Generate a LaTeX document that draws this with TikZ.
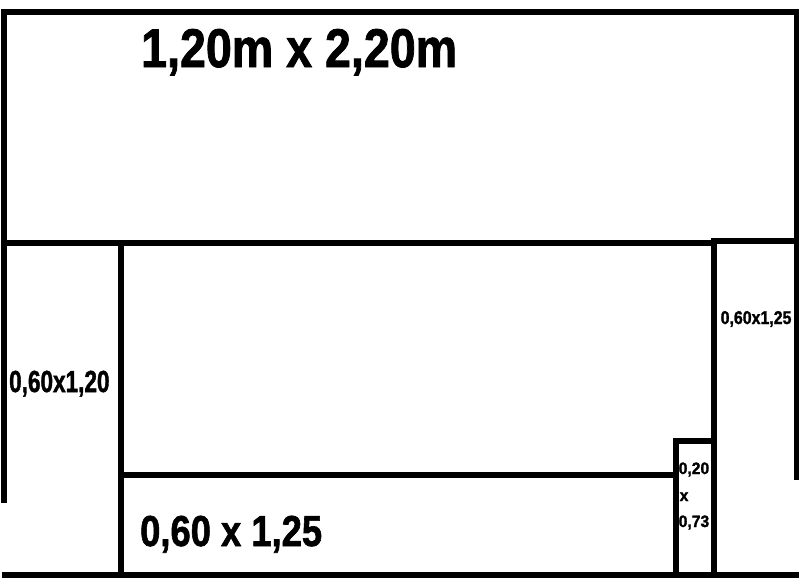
\documentclass[tikz,border=0pt]{standalone}
\usepackage{fontspec}
\setmainfont{Liberation Sans}
\newfontfamily\heavyfont{Liberation Sans Bold}[FakeBold=1.6]
\newcommand{\lblfont}[1]{\heavyfont\fontsize{#1}{#1}\selectfont}
\tikzset{
  wall/.style={line width=5.5pt, line cap=rect, black},
  lbl/.style={inner sep=0pt, anchor=base west}
}
\begin{document}
\begin{tikzpicture}[x=1pt,y=-1pt]
\useasboundingbox (0,0) rectangle (799,579);
% coordinates
\coordinate (tl) at (4,12);
\coordinate (tr) at (797,12);
\coordinate (ml) at (4,243);
\coordinate (mA) at (121,243);
\coordinate (mB) at (714,243);
\coordinate (mr) at (797,241);
\coordinate (le) at (4,500);
\coordinate (bl) at (5,575);
\coordinate (br) at (799,575);
\coordinate (aB) at (121,575);
\coordinate (hA) at (121,475);
\coordinate (hB) at (676,475);
\coordinate (sT) at (676,441);
\coordinate (sR) at (714,441);
\coordinate (sB) at (676,575);
\coordinate (rB) at (714,575);
\coordinate (rr) at (797,477);
% walls
\draw[wall] (le) -- (tl) -- (tr) -- (mr);
\draw[wall] (ml) -- (mB);
\draw[wall] (mB) -- ++(0,-2) -- (mr);
\draw[wall] (mr) -- (rr);
\draw[wall] (mA) -- (aB);
\draw[wall] (hA) -- (hB);
\draw[wall] (sB) -- (sT) -- (sR);
\draw[wall] (mB) -- (rB);
\draw[wall] (bl) -- (br);
% labels
\node[lbl, font=\lblfont{54.5}, xscale=0.855] (big) at (141,67) {1,20m x 2,20m};
\node[lbl, font=\lblfont{30.5}, xscale=0.74] (left) at (9,392) {0,60x1,20};
\node[lbl, font=\lblfont{18.5}, xscale=0.86] (right) at (720.5,324) {0,60x1,25};
\node[lbl, font=\lblfont{43.3}, xscale=0.84] (bottom) at (140,546) {0,60 x 1,25};
\node[lbl, font=\lblfont{16.5}, xscale=0.95] (s1) at (678.5,474) {0,20};
\node[lbl, font=\lblfont{16.5}, xscale=0.95] (s2) at (679.5,501) {x};
\node[lbl, font=\lblfont{16.5}, xscale=0.95] (s3) at (678.5,527) {0,73};
\end{tikzpicture}
\end{document}
